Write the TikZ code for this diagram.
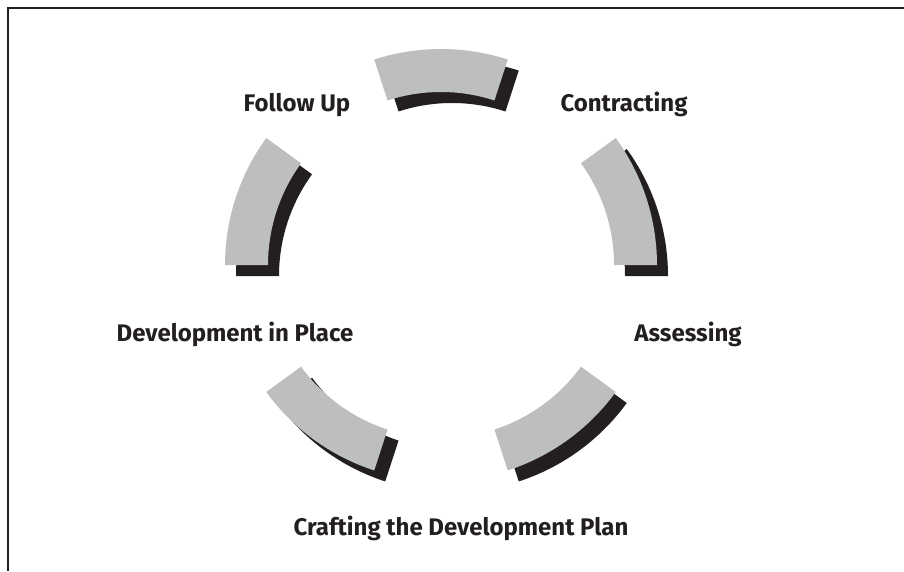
\documentclass[tikz,border=0pt]{standalone}
\usepackage{fontspec}
\setmainfont{Fira Sans}
\definecolor{segGray}{HTML}{BCBEC0}
\definecolor{segDark}{HTML}{231F20}
\begin{document}
\begin{tikzpicture}[x=1pt,y=1pt,
  frameline/.style={draw=segDark,line width=1.5pt},
  segface/.style={fill=segGray},
  segshade/.style={fill=segDark},
  lbl/.style={font=\bfseries\fontsize{24}{28}\selectfont,text=segDark,inner sep=0pt,anchor=base}]
\useasboundingbox (0,0) rectangle (904,571);
% open frame: top and left edges only
\draw[frameline] (904,563) -- (8,563) -- (8,0);
% five ring segments, each with a dark drop shadow
\foreach \a in {0,72,144,216,288} {
  \fill[segshade,shift={(452,295)}]
    (\a:216) arc[start angle=\a, delta angle=36, radius=216]
    -- (\a+36:173) arc[start angle=\a+36, delta angle=-36, radius=173] -- cycle;
}
\foreach \a in {0,72,144,216,288} {
  \fill[segface,shift={(441,306)}]
    (\a:216) arc[start angle=\a, delta angle=36, radius=216]
    -- (\a+36:173) arc[start angle=\a+36, delta angle=-36, radius=173] -- cycle;
}
% stage labels
\node[lbl] (contract) at (624,459) {Contracting};
\node[lbl] (assess)   at (688,230) {Assessing};
\node[lbl] (craft)    at (461,36)  {Crafting the Development Plan};
\node[lbl] (inplace)  at (235,230) {Development in Place};
\node[lbl] (follow)   at (297,459) {Follow Up};
\end{tikzpicture}
\end{document}
